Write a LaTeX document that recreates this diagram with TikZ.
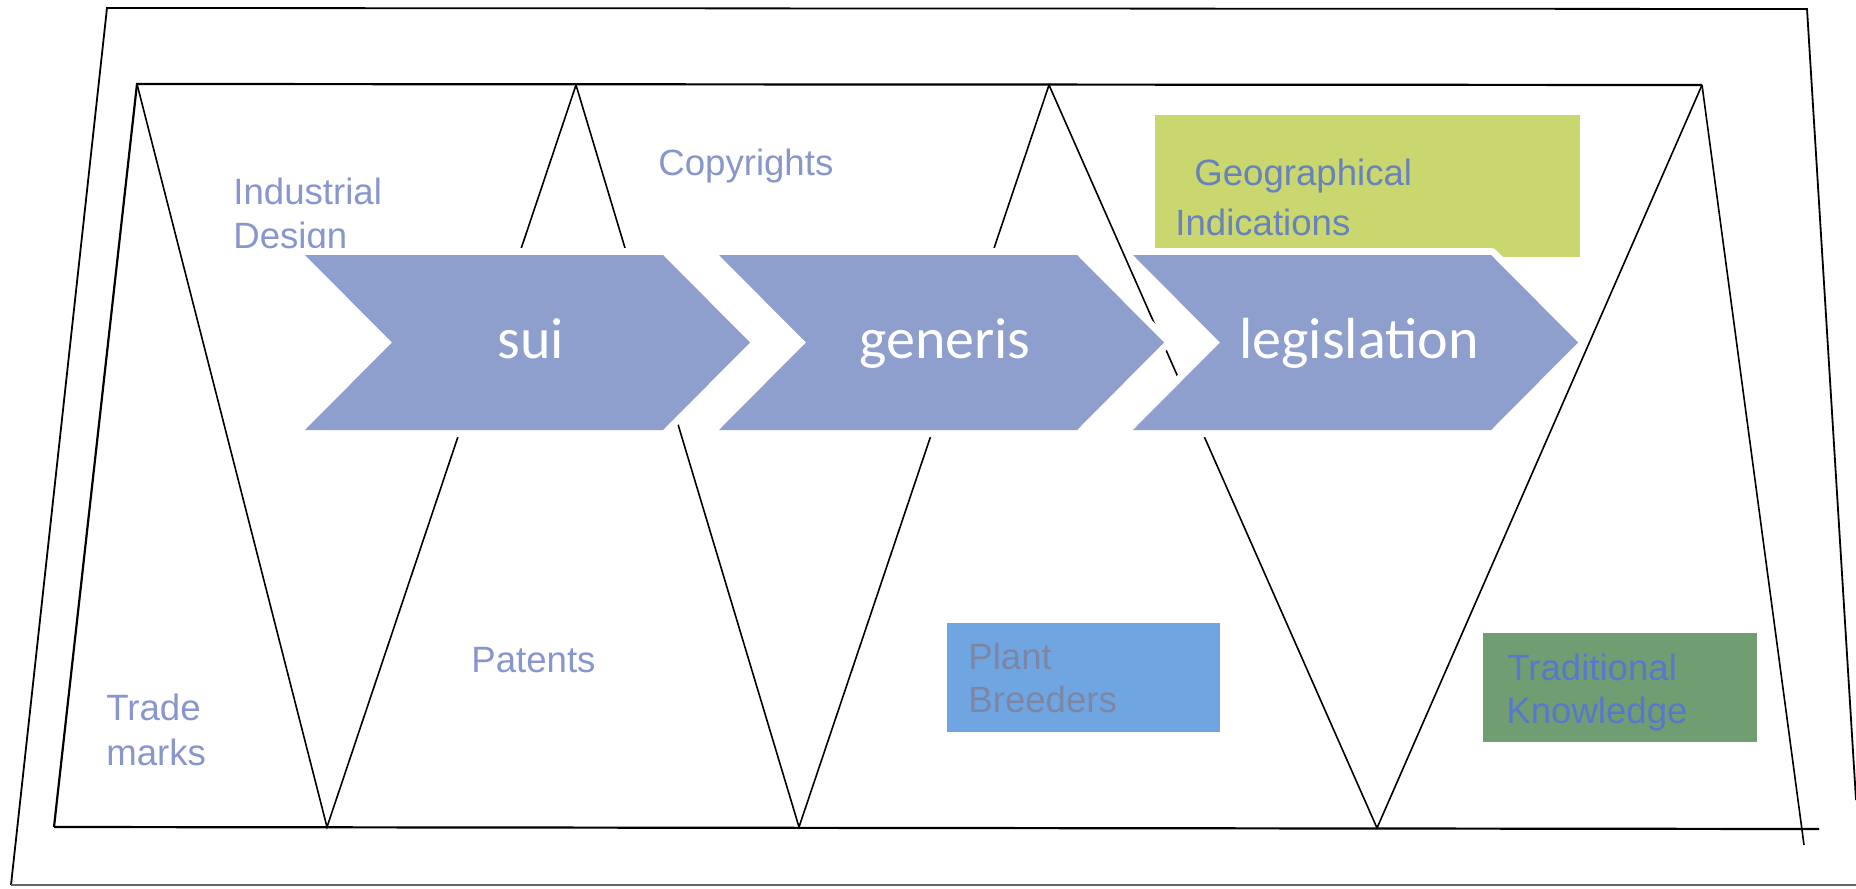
\documentclass[tikz,border=0pt]{standalone}
\usepackage{fontspec}
\setmainfont{Liberation Sans}
\newfontfamily\calib{Carlito}
\definecolor{chevc}{RGB}{142,159,206}
\definecolor{lblc}{RGB}{136,150,204}
\definecolor{gifill}{RGB}{202,214,110}
\definecolor{gitext}{RGB}{104,130,190}
\definecolor{pbfill}{RGB}{111,166,226}
\definecolor{pbtext}{RGB}{125,135,165}
\definecolor{tkfill}{RGB}{112,158,114}
\definecolor{tktext}{RGB}{88,120,205}
\begin{document}
\begin{tikzpicture}[x=0.5pt,y=-0.5pt,
  frame/.style={draw=black,line width=1.1pt},
  outerframe/.style={draw=black,line width=0.9pt},
  zig/.style={draw=black,line width=0.8pt},
  lbl/.style={font=\fontsize{18.3}{22}\selectfont,text=lblc,inner sep=0pt,anchor=base west},
  chevtxt/.style={font=\calib\fontsize{29}{34}\selectfont,text=white,inner sep=0pt,anchor=base},
  halo/.style={draw=white,line width=7pt,line join=round},
  chevbody/.style={fill=chevc}]
\useasboundingbox (0,0) rectangle (1856,888);
\fill[white] (0,0) rectangle (1856,888);
% outer frame
\coordinate (o1) at (107,8);
\coordinate (o2) at (1807,9);
\coordinate (o3) at (1856,800);
\coordinate (o4) at (11,885);
\coordinate (o5) at (1856,885);
\draw[outerframe] (o3) -- (o2) -- (o1) -- (o4);
\draw[outerframe,draw=black!60] (o4) -- (o5);
% inner frame
\coordinate (i1) at (137,84);
\coordinate (i2) at (1702,85);
\coordinate (i3) at (1804,845);
\coordinate (i4) at (54,827);
\coordinate (i5) at (1819,829);
\coordinate (t1) at (576,85);
\coordinate (t2) at (1049,85);
\coordinate (b1) at (327,827);
\coordinate (b2) at (799,827);
\coordinate (b3) at (1377,828);
\draw[frame] (i4) -- (i1) -- (i2);
\draw[frame] (i4) -- (i5);
\draw[zig] (i2) -- (i3);
\draw[zig] (i1) -- (b1) -- (t1) -- (b2) -- (t2) -- (b3) -- (i2);
% coloured boxes
\node[fill=gifill,inner sep=0pt,minimum width=425*0.5pt,minimum height=142*0.5pt,anchor=north west] (gibox) at (1155,115) {};
\node[fill=pbfill,inner sep=0pt,minimum width=273*0.5pt,minimum height=109*0.5pt,anchor=north west] (pbbox) at (947,623) {};
\node[fill=tkfill,inner sep=0pt,minimum width=274*0.5pt,minimum height=109*0.5pt,anchor=north west] (tkbox) at (1483,633) {};
% labels
\node[lbl] (ind1) at (233,204) {Industrial};
\node[lbl] (ind2) at (233,248) {Design};
\node[lbl] (copy) at (658,175) {Copyrights};
\node[lbl] (pat) at (471,672) {Patents};
\node[lbl] (tm1) at (106,720) {Trade};
\node[lbl] (tm2) at (106,765) {marks};
\node[lbl,text=gitext] (gi1) at (1194,185) {Geographical};
\node[lbl,text=gitext] (gi2) at (1175,235) {Indications};
\node[lbl,text=pbtext] (pb1) at (968,669) {Plant};
\node[lbl,text=pbtext] (pb2) at (968,712) {Breeders};
\node[lbl,text=tktext] (tk1) at (1507,680) {Traditional};
\node[lbl,text=tktext] (tk2) at (1506,723) {Knowledge};
% chevrons
\foreach \L/\w [count=\i] in {305/sui,719/generis,1133/legislation}{
  \draw[halo] (\L,255) -- (\L+358,255) -- (\L+445,342.5) -- (\L+358,430) -- (\L,430) -- (\L+87,342.5) -- cycle;
  \fill[chevbody] (\L,255) -- (\L+358,255) -- (\L+445,342.5) -- (\L+358,430) -- (\L,430) -- (\L+87,342.5) -- cycle;
  \node[chevtxt] (chev\i) at (\L+226,358) {\w};
}
\end{tikzpicture}
\end{document}
